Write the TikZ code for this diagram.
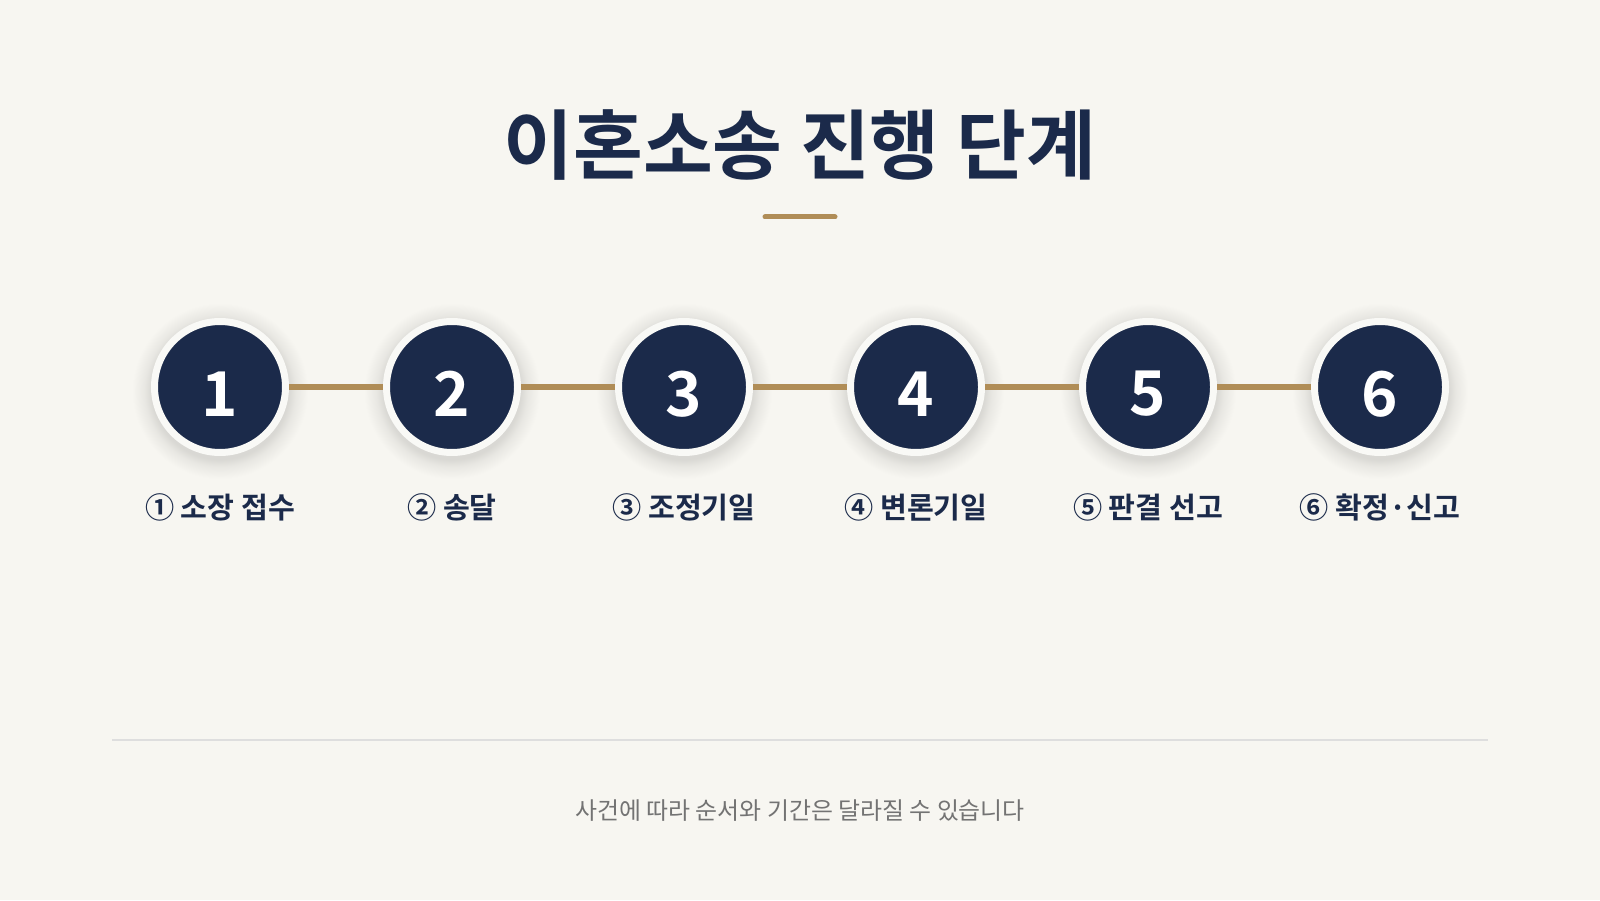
\documentclass[tikz,border=0pt]{standalone}
\usepackage{fontspec}
\setmainfont{Noto Sans CJK KR}[BoldFont={Noto Sans CJK KR Bold}]
\usepackage{xcolor}
\definecolor{navy}{HTML}{1B2A4A}
\definecolor{gold}{HTML}{B08D57}
\definecolor{paper}{HTML}{F7F6F1}
\definecolor{ringwhite}{HTML}{F9F9F6}
\colorlet{halo}{paper!88!black}
\pgfdeclareradialshading{ringshadow}{\pgfpoint{0bp}{0bp}}{color(0bp)=(halo); color(19.5bp)=(halo); color(21.5bp)=(paper!50!halo); color(25bp)=(paper); color(50bp)=(paper)}
\tikzset{
    stepcircle/.style={circle, fill=navy, draw=ringwhite, line width=0.07cm, minimum size=1.31cm, inner sep=0pt,
        text=white, font=\bfseries\fontsize{17.6}{20}\selectfont},
    steplabel/.style={text=navy, font=\bfseries\fontsize{8.3}{10}\selectfont},
    link/.style={draw=gold, line width=0.06cm}
}

\begin{document}
\begin{tikzpicture}
    \fill[paper] (0,0) rectangle (16,9);
    \useasboundingbox (0,0) rectangle (16,9);
    \node[text=navy, font=\bfseries\fontsize{21.6}{25}\selectfont] (title) at (8,7.55) {이혼소송 진행 단계};
    \draw[gold, line width=0.05cm, line cap=round] (7.65,6.83) -- (8.35,6.83); % underline
    \foreach \i in {1,...,6}
        \shade[shading=ringshadow] ({2.2+2.32*(\i-1)},5.09) circle (0.88); % soft shadow
    \foreach \i/\txt in {1/소장 접수, 2/송달, 3/조정기일, 4/변론기일, 5/판결 선고, 6/확정·신고} {
        \node[stepcircle] (s\i) at ({2.2+2.32*(\i-1)},5.13) {\raisebox{-2pt}[\height][\depth]{\i}};
        \node[steplabel] (l\i) at ({2.2+2.32*(\i-1)},3.93) {\ifcase\i\or ①\or ②\or ③\or ④\or ⑤\or ⑥\fi\ \txt};
    }
    \foreach \a/\b in {1/2, 2/3, 3/4, 4/5, 5/6}
        \draw[link] (s\a) -- (s\b);
    \draw[black!13, line width=0.4pt] (1.12,1.6) -- (14.88,1.6); % separator
    \node[text=black!55, font=\fontsize{6.8}{8}\selectfont] (note) at (8,0.89) {사건에 따라 순서와 기간은 달라질 수 있습니다};
\end{tikzpicture}
\end{document}
